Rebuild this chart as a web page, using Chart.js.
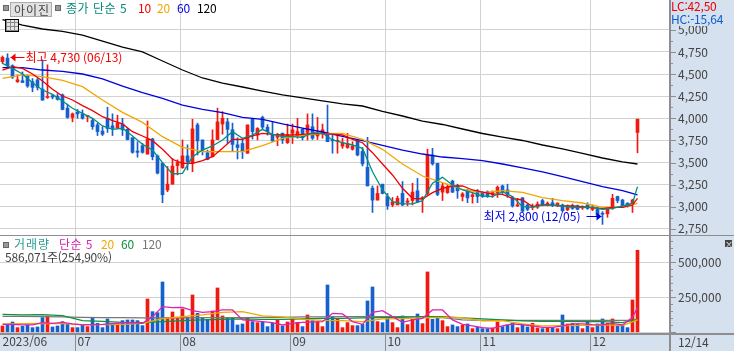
<!DOCTYPE html>
<html lang="ko">
<head>
<meta charset="utf-8">
<title>아이진</title>
<script src="https://cdn.jsdelivr.net/npm/chart.js@4"></script>
<style>
  html, body { margin: 0; padding: 0; background: #fff; }
  #wrap { position: relative; width: 734px; height: 351px; overflow: hidden; font: 12px "Noto Sans CJK KR", sans-serif; }
  #wrap canvas { position: absolute; left: 0; }
  .strip { position: absolute; background: #d6e1ef; }
  .rule { position: absolute; background: #8e8e8e; }
  .t { position: absolute; white-space: nowrap; line-height: 14px; letter-spacing: -0.2px; }
  .sq { position: absolute; width: 4px; height: 4px; background: #999; border: 1px solid #666; }
</style>
</head>
<body>
<div id="wrap">
  <div class="strip" style="left:670px;top:0;width:64px;height:351px"></div>
  <div class="strip" style="left:0;top:334px;width:734px;height:17px"></div>
  <canvas id="priceChart" width="734" height="235" style="top:0;width:734px;height:235px"></canvas>
  <canvas id="volumeChart" width="734" height="116" style="top:235px;width:734px;height:116px"></canvas>
  <div class="rule" style="left:0;top:235px;width:734px;height:1px"></div>
  <div class="rule" style="left:0;top:333px;width:734px;height:2px"></div>
  <div class="rule" style="left:669px;top:0;width:2px;height:351px"></div>

  <div class="sq" style="left:3px;top:5px"></div>
  <div class="t" style="left:10px;top:2px;width:37px;height:13px;padding-left:3px;background:#e2e2e2;border:1px solid #aaa;color:#444;line-height:13px;letter-spacing:1px">아이진</div>
  <div class="sq" style="left:55px;top:5px"></div>
  <div class="t" style="left:66px;top:1px;color:#00897b;letter-spacing:0.5px">종가 단순 5</div>
  <div class="t" style="left:138px;top:1px;color:#f00000">10</div>
  <div class="t" style="left:157px;top:1px;color:#f0a800">20</div>
  <div class="t" style="left:177px;top:1px;color:#0000e0">60</div>
  <div class="t" style="left:197px;top:1px;color:#000">120</div>
  <div style="position:absolute;left:5px;top:19px;width:12px;height:11px;border:1px solid #000;background:repeating-linear-gradient(90deg,#888 0 1px,#e4e4e4 1px 4px)"></div>
  <div style="position:absolute;left:6px;top:20px;width:12px;height:11px;background:repeating-linear-gradient(0deg,#888 0 1px,transparent 1px 4px)"></div>

  <div style="position:absolute;left:671px;top:0;width:63px;height:26px;background:#d6e1ef"></div>
  <div class="t" style="left:671px;top:-1px;color:#f00000">LC:42,50</div>
  <div class="t" style="left:671px;top:12px;color:#0a5fd0">HC:-15,64</div>

  <div class="sq" style="left:3px;top:242px"></div>
  <div class="t" style="left:14px;top:237px;color:#2a9d94;letter-spacing:1px">거래량</div>
  <div class="t" style="left:59px;top:237px;color:#e020b0;letter-spacing:0.4px">단순 5</div>
  <div class="t" style="left:101px;top:237px;color:#f0a800">20</div>
  <div class="t" style="left:121px;top:237px;color:#109040">60</div>
  <div class="t" style="left:142px;top:237px;color:#777">120</div>
  <div class="t" style="left:5px;top:250px;color:#444">586,071주(254,90%)</div>
  <div class="t" style="left:725px;top:240px;width:7px;height:7px;background:#444;color:#fff;font-size:8px;line-height:7px;text-align:center;letter-spacing:0">×</div>
  <div class="t" style="left:678px;top:335px;color:#444">12/14</div>
</div>

<script>
// month starts on the axis (2023/06/12 is the first session)
const monthStarts = [0, 15, 36, 58, 77, 96, 118];
const monthLabels = ['2023/06', '07', '08', '09', '10', '11', '12'];
const priceTicks = [2750,2875,3000,3125,3250,3375,3500,3625,3750,3875,4000,4125,4250,4375,4500,4625,4750,4875,5000];
const volumeTicks = [0,50000,100000,150000,200000,250000,300000,350000,400000,450000,500000,550000,600000,650000];

const openVals = [4640,4680,4595,4415,4425,4480,4415,4435,4330,4235,4255,4250,4265,4115,4010,4070,4050,4020,3975,3925,3855,4000,3915,3890,3935,3875,3780,3630,3690,3595,3765,3575,3490,3190,3255,3465,3440,3575,3490,3925,3755,3610,3565,3760,3935,3960,3870,3700,3715,3605,3990,3810,4010,3900,3810,3785,3830,3725,3830,3800,3875,3840,3905,3800,3830,3820,3760,3740,3685,3670,3650,3745,3625,3445,3210,3075,3255,3115,3020,3020,3150,3050,3070,3180,3090,3150,3585,3490,3165,3160,3290,3240,3115,3180,3115,3180,3160,3170,3135,3160,3235,3190,3100,3010,3100,3020,2995,2995,3070,3015,3045,3010,3020,2965,3010,3010,2985,3020,2970,2970,2925,2920,2980,3115,3075,3040,3030,3840];
const highVals = [4705,4730,4605,4490,4525,4490,4450,4450,4660,4605,4270,4280,4275,4160,4060,4100,4095,4035,4000,3945,3905,4125,4050,4035,4000,3885,3780,3735,3715,3970,3775,3585,3500,3455,3545,3530,3755,3700,3990,3945,3755,3640,3870,4115,4075,4000,3945,3780,3775,3925,4000,3895,4025,3930,3960,3830,3835,3935,3935,4000,3885,4050,4050,4010,3935,4150,3810,3810,3775,3830,3735,3755,3670,3785,3235,3235,3255,3150,3105,3120,3285,3095,3265,3320,3115,3650,3660,3490,3265,3255,3300,3255,3160,3195,3150,3195,3170,3180,3180,3235,3245,3255,3115,3095,3105,3030,3030,3055,3085,3055,3095,3045,3030,3020,3030,3020,3010,3045,3020,2995,2945,2995,3140,3120,3085,3045,3085,3990];
const lowVals = [4620,4565,4450,4405,4405,4350,4300,4320,4205,4225,4220,4205,4095,4000,3960,4000,3990,3960,3875,3805,3805,3840,3805,3885,3805,3755,3605,3560,3605,3595,3530,3370,3045,3170,3255,3360,3435,3415,3395,3585,3585,3530,3565,3760,3820,3715,3625,3540,3545,3605,3765,3755,3870,3810,3735,3690,3715,3715,3715,3775,3755,3755,3760,3760,3775,3735,3605,3605,3660,3660,3640,3575,3460,3235,2935,3075,3145,2970,3000,3020,3010,3010,3020,3050,2935,3135,3470,3125,3070,3150,3160,3095,3065,3045,3040,3045,3105,3105,3105,3105,3150,3105,2995,3000,2935,2955,2965,2980,3010,3010,3000,3000,2945,2955,2970,2965,2970,2970,2955,2895,2800,2880,2970,3045,2995,2995,2935,3610];
const closeVals = [4690,4595,4465,4435,4405,4365,4350,4350,4205,4245,4240,4215,4100,4010,4050,4050,4000,4030,3905,3850,3820,3885,3885,3945,3870,3760,3615,3615,3615,3765,3565,3380,3135,3255,3460,3500,3575,3510,3880,3745,3640,3535,3755,3960,4000,3875,3705,3670,3625,3925,3850,3885,3900,3850,3745,3800,3755,3810,3870,3850,3780,3925,3775,3830,3870,3735,3745,3745,3725,3715,3685,3585,3485,3235,3075,3150,3150,3010,3055,3095,3020,3065,3165,3055,3105,3585,3485,3140,3235,3225,3165,3180,3145,3100,3135,3115,3115,3115,3160,3220,3170,3135,3010,3020,2950,2970,3000,3030,3020,3040,3015,3040,2955,3010,2980,2970,2995,2980,2995,2905,2915,2980,3095,3070,3010,3010,3075,3990];
const volumeVals = [45200,52400,73800,33300,42900,52400,33300,38100,104800,116700,38100,45200,76200,59500,33300,33300,57100,40500,102400,64300,33300,95200,64300,59500,83300,88100,88100,83300,47600,238100,147600,140500,359500,104800,145200,100000,166700,107100,266700,135700,104800,92900,152400,316700,116700,100000,104800,52400,59500,100000,76200,69000,76200,40500,64300,88100,45200,73800,92900,71400,40500,123800,83300,76200,40500,338100,111900,100000,33300,69000,47600,47600,57100,223800,323800,76200,69000,107100,69000,33300,116700,54800,92900,131000,61900,431000,92900,100000,83300,40500,52400,40500,50000,59500,26200,35700,26200,26200,31000,73800,40500,52400,64300,33300,57100,38100,64300,31000,26200,35700,35700,26200,123800,59500,64300,59500,26200,76200,33300,59500,95200,64300,95200,47600,47600,33300,231000,586071];

// moving averages read at every 2nd session (0,2,...,126,127)
const ma5 = [4622,4565,4501,4403,4320,4271,4196,4113,4056,4000,3913,3875,3887,3800,3706,3641,3498,3370,3378,3566,3641,3687,3755,3849,3773,3811,3875,3819,3792,3792,3785,3837,3830,3755,3724,3698,3660,3396,3189,3057,3031,3031,3068,3265,3332,3246,3189,3159,3121,3114,3170,3114,3001,2993,3019,3019,3008,2993,2993,2993,2970,2982,3008,3038,3227];
const ma10 = [4546,4584,4565,4501,4422,4328,4252,4207,4143,4086,4018,3973,3936,3849,3800,3747,3649,3536,3491,3491,3521,3566,3660,3762,3762,3800,3830,3819,3811,3811,3819,3830,3826,3822,3811,3762,3724,3611,3483,3359,3208,3095,3087,3159,3208,3234,3234,3189,3166,3144,3140,3095,3076,3001,3023,3019,3008,3008,3001,2989,2978,2993,2993,3019,3095];
// slower lines read at every 4th session (0,4,...,124,127)
const ma20 = [4452,4490,4471,4429,4358,4207,4067,3954,3792,3672,3623,3623,3623,3690,3773,3807,3826,3830,3762,3649,3483,3347,3272,3197,3159,3182,3163,3102,3068,3042,2993,2993,3038];
const ma60 = [4573,4573,4546,4531,4501,4445,4365,4290,4226,4150,4101,4064,4011,3988,3936,3890,3845,3796,3747,3694,3641,3596,3562,3543,3521,3483,3438,3393,3340,3283,3227,3182,3133];
const ma120 = [5117,5055,5010,4982,4942,4874,4806,4750,4648,4546,4456,4399,4354,4308,4264,4230,4196,4162,4139,4077,4026,3969,3930,3879,3828,3788,3749,3698,3653,3602,3551,3506,3483];

const volMa5 = [57100,57100,52400,52400,69000,64300,71400,59500,52400,54800,57100,61900,66700,69000,64300,111900,183300,176200,178600,154800,142900,147600,159500,159500,88100,83300,76200,69000,52400,64300,71400,73800,76200,135700,131000,76200,57100,142900,154800,111900,71400,88100,100000,159500,159500,88100,57100,45200,33300,28600,45200,59500,52400,45200,35700,35700,45200,59500,59500,54800,52400,64300,52400,107100,176200];
const volMa20 = [59500,61900,64300,61900,54800,54800,57100,64300,97600,111900,123800,142900,147600,116700,109500,92900,85700,83300,76200,95200,97600,102400,107100,104800,81000,83300,59500,45200,47600,50000,52400,47600,88100];
const volMa60 = [128600,123800,126200,119000,83300,78600,71400,69000,76200,83300,88100,92900,95200,92900,92900,95200,100000,100000,102400,104800,107100,111900,111900,102400,95200,88100,81000,78600,78600,76200,76200,69000,92900];
const volMa120 = [114300,114300,111900,109500,107100,104800,104800,102400,102400,102400,104800,104800,104800,107100,107100,109500,109500,111900,111900,111900,111900,109500,104800,88100,85700,85700,85700,85700,85700,85700,85700,85700,85700];

const UP = '#ee1a10', DOWN = '#1560cc';
const GRID = '#d2d2d2', AXIS = '#8e8e8e', LABEL = '#444';
const FONT = '12px "Noto Sans CJK KR", sans-serif';
const SLOTS = 134;

// the 6 empty slots leave the gap before the right axis
const categories = Array.from({ length: SLOTS }, (_, i) => i);
const isUp = closeVals.map((c, i) => c >= openVals[i]);
const candleColors = isUp.map(up => up ? UP : DOWN);

const denseIdx = ma5.map((_, k) => k === ma5.length - 1 ? closeVals.length - 1 : k * 2);
const sparseIdx = ma20.map((_, k) => k === ma20.length - 1 ? closeVals.length - 1 : k * 4);

function onSlots(idx, vals) {
    const out = new Array(SLOTS).fill(null);
    idx.forEach((at, k) => { out[at] = vals[k]; });
    return out;
}

function lineSet(idx, vals, color) {
    return {
        type: 'line', data: onSlots(idx, vals), borderColor: color, borderWidth: 1.3,
        pointRadius: 0, tension: 0, spanGaps: true, order: 1
    };
}

function barSet(data, thickness) {
    return {
        type: 'bar', data: data, backgroundColor: candleColors, barThickness: thickness,
        grouped: false, borderWidth: 0, minBarLength: 1, order: 2
    };
}

// major and minor marks on the right axis
const axisMarks = {
    id: 'axisMarks',
    afterDraw(chart, args, opts) {
        const s = chart.scales.y, ctx = chart.ctx;
        ctx.save();
        ctx.strokeStyle = AXIS;
        s.ticks.forEach(t => {
            const y = Math.round(s.getPixelForValue(t.value)) + 0.5;
            ctx.beginPath();
            ctx.moveTo(s.left, y);
            ctx.lineTo(s.left + (t.value % opts.step === 0 ? 6 : 3), y);
            ctx.stroke();
        });
        ctx.restore();
    }
};

function arrow(ctx, fromX, tipX, y) {
    const dir = tipX > fromX ? -1 : 1;
    ctx.beginPath();
    ctx.moveTo(fromX, y);
    ctx.lineTo(tipX, y);
    ctx.stroke();
    ctx.beginPath();
    ctx.moveTo(tipX, y);
    ctx.lineTo(tipX + dir * 5, y - 4);
    ctx.lineTo(tipX + dir * 5, y + 4);
    ctx.closePath();
    ctx.fill();
}

// high and low call-outs, anchored on the candles through the scales
const extremes = {
    id: 'extremes',
    afterDatasetsDraw(chart) {
        const { x, y } = chart.scales, ctx = chart.ctx;
        const hi = highVals.indexOf(Math.max(...highVals));
        const lo = lowVals.indexOf(Math.min(...lowVals));
        ctx.save();
        ctx.font = FONT;
        ctx.textBaseline = 'middle';
        ctx.fillStyle = ctx.strokeStyle = '#f00000';
        const hiX = x.getPixelForValue(hi), hiY = Math.round(y.getPixelForValue(highVals[hi])) + 3.5;
        arrow(ctx, hiX + 17, hiX + 3, hiY);
        ctx.textAlign = 'left';
        ctx.fillText('최고 4,730 (06/13)', hiX + 18, hiY);
        ctx.fillStyle = ctx.strokeStyle = '#0000e0';
        const loX = x.getPixelForValue(lo), loY = Math.round(y.getPixelForValue(lowVals[lo])) - 7.5;
        arrow(ctx, loX - 16, loX - 1, loY);
        ctx.textAlign = 'right';
        ctx.fillText('최저 2,800 (12/05)', loX - 22, loY);
        ctx.restore();
    }
};

function xAxis(showLabels) {
    return {
        type: 'category',
        offset: true,
        border: { display: false },
        grid: {
            offset: true,
            color: c => monthStarts.indexOf(c.index) > 0 ? GRID : 'transparent',
            tickColor: c => monthStarts.indexOf(c.index) > 0 ? AXIS : 'transparent',
            tickLength: showLabels ? 18 : 0,
            drawTicks: showLabels
        },
        ticks: {
            display: showLabels,
            autoSkip: false,
            maxRotation: 0,
            align: 'start',
            padding: -17,
            color: LABEL,
            font: { family: '"Noto Sans CJK KR"', size: 12 },
            callback: v => {
                const k = monthStarts.indexOf(v);
                return k < 0 ? '' : monthLabels[k];
            }
        },
        afterFit: s => { s.height = showLabels ? 18 : 0; s.paddingLeft = s.paddingRight = 0; }
    };
}

function yAxis(min, max, values, stepMajor, labelFn) {
    return {
        position: 'right',
        bounds: 'data',
        min: min,
        max: max,
        border: { display: false },
        grid: {
            color: c => c.tick && c.tick.value % stepMajor === 0 ? GRID : 'transparent',
            drawTicks: false
        },
        ticks: {
            autoSkip: false,
            padding: 8,
            color: LABEL,
            font: { family: '"Noto Sans CJK KR"', size: 12 },
            callback: labelFn
        },
        afterBuildTicks: s => { s.ticks = values.map(v => ({ value: v })); },
        afterFit: s => { s.width = 64; s.paddingTop = s.paddingBottom = 0; }
    };
}

const baseOptions = {
    responsive: false,
    animation: false,
    events: [],
    layout: { padding: 0 }
};

new Chart(document.getElementById('priceChart').getContext('2d'), {
    data: {
        labels: categories,
        datasets: [
            lineSet(denseIdx, ma5, '#008f80'),
            lineSet(denseIdx, ma10, '#f00000'),
            lineSet(sparseIdx, ma20, '#f0a800'),
            lineSet(sparseIdx, ma60, '#0000e0'),
            lineSet(sparseIdx, ma120, '#000000'),
            barSet(openVals.map((o, i) => [Math.min(o, closeVals[i]), Math.max(o, closeVals[i])]), 3),
            barSet(lowVals.map((l, i) => [l, highVals[i]]), 1)
        ]
    },
    options: {
        ...baseOptions,
        scales: {
            x: xAxis(false),
            y: yAxis(2680, 5338, priceTicks, 250, v => v % 250 === 0 ? v.toLocaleString('en-US') : '')
        },
        plugins: { legend: { display: false }, tooltip: { enabled: false }, axisMarks: { step: 250 } }
    },
    plugins: [axisMarks, extremes]
});

new Chart(document.getElementById('volumeChart').getContext('2d'), {
    data: {
        labels: categories,
        datasets: [
            lineSet(denseIdx, volMa5, '#e020b0'),
            lineSet(sparseIdx, volMa20, '#f0a800'),
            lineSet(sparseIdx, volMa60, '#109040'),
            lineSet(sparseIdx, volMa120, '#777777'),
            barSet(volumeVals, 3)
        ]
    },
    options: {
        ...baseOptions,
        scales: {
            x: xAxis(true),
            y: yAxis(-5000, 695000, volumeTicks, 250000, v => v > 0 && v % 250000 === 0 ? v.toLocaleString('en-US') : '')
        },
        plugins: { legend: { display: false }, tooltip: { enabled: false }, axisMarks: { step: 250000 } }
    },
    plugins: [axisMarks]
});
</script>
</body>
</html>
